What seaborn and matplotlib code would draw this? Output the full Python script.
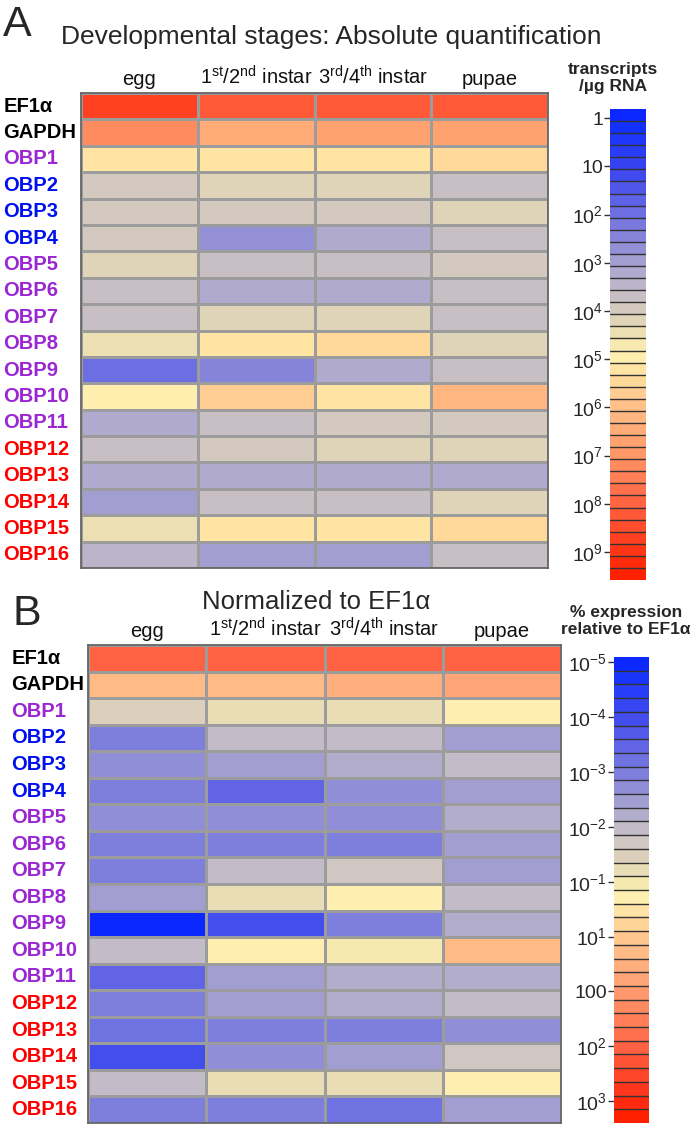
import numpy as np
import pandas as pd
import matplotlib
matplotlib.use('Agg')
import matplotlib.pyplot as plt
from matplotlib.colors import LinearSegmentedColormap
import seaborn as sns

# ---- data -------------------------------------------------------------
stages = ['egg', r'1$^{\rm st}$/2$^{\rm nd}$ instar',
          r'3$^{\rm rd}$/4$^{\rm th}$ instar', 'pupae']
genes = ['EF1α', 'GAPDH'] + ['OBP%d' % i for i in range(1, 17)]
gene_colors = ['black', 'black', '#9b27d3', '#0010ee', '#0010ee', '#0010ee',
               '#9b27d3', '#9b27d3', '#9b27d3', '#9b27d3', '#9b27d3', '#9b27d3',
               '#9b27d3', '#ff0000', '#ff0000', '#ff0000', '#ff0000', '#ff0000']

# A: log10 transcripts / ug RNA
abs_egg = [8.8, 7.2, 5.3, 3.85, 4.0, 3.85, 4.1, 3.7, 3.8, 4.4, 1.9, 4.9, 3.1, 3.6, 3.3, 2.95, 4.5, 3.55]
abs_l12 = [8.2, 6.55, 5.1, 4.3, 4.0, 2.8, 3.6, 3.2, 4.2, 5.3, 2.45, 5.6, 3.7, 3.95, 3.1, 3.6, 5.1, 2.95]
abs_l34 = [8.2, 6.75, 5.1, 4.2, 4.0, 3.3, 3.6, 3.3, 4.3, 5.5, 3.1, 5.3, 4.0, 4.1, 3.3, 3.7, 5.1, 2.9]
abs_pup = [8.1, 6.75, 5.5, 3.6, 4.1, 3.7, 4.0, 3.8, 3.8, 4.2, 3.8, 6.3, 4.0, 4.2, 3.3, 4.25, 5.5, 3.8]

# B: level on the "% expression relative to EF1a" scale (tick index units)
rel_egg = [7.1, 5.3, 3.4, 2.1, 2.2, 2.1, 2.3, 1.95, 2.05, 2.6, 0.0, 3.1, 1.4, 1.95, 1.7, 1.1, 2.9, 1.95]
rel_l12 = [7.1, 5.3, 3.8, 3.0, 2.6, 1.6, 2.35, 1.95, 2.9, 3.8, 1.0, 4.3, 2.4, 2.6, 2.0, 2.35, 3.8, 1.95]
rel_l34 = [7.1, 5.5, 3.8, 3.0, 2.7, 2.15, 2.35, 2.1, 3.15, 4.3, 2.0, 3.95, 2.7, 2.8, 2.1, 2.4, 3.8, 1.7]
rel_pup = [7.1, 5.8, 4.3, 2.5, 2.9, 2.55, 2.75, 2.6, 2.6, 3.0, 2.7, 5.3, 2.8, 3.0, 2.3, 3.15, 4.3, 2.6]

abs_ticks = [0, 1, 2, 3, 4, 5, 6, 7, 8, 9]
abs_ticklabels = ['1', '10', '$10^2$', '$10^3$', '$10^4$', '$10^5$', '$10^6$',
                  '$10^7$', '$10^8$', '$10^9$']
rel_ticks = [0, 1, 2, 3, 4, 5, 6, 7, 8]
rel_ticklabels = ['$10^{-5}$', '$10^{-4}$', '$10^{-3}$', '$10^{-2}$', '$10^{-1}$',
                  '$10^{1}$', '100', '$10^{2}$', '$10^{3}$']

abs_stops = [(-0.19, '#0a28ff'), (0, '#1030ff'), (1, '#3c46f0'), (2, '#7474e0'),
             (2.5, '#8c88d8'), (3, '#a8a4d0'), (3.5, '#c0b8c8'), (4, '#d8ccbc'),
             (4.5, '#efe2b0'), (4.9, '#fff0b0'), (5.5, '#ffd898'), (6, '#ffc088'),
             (6.5, '#ffac78'), (7, '#ff9868'), (7.5, '#ff8058'), (8, '#ff6644'),
             (8.5, '#ff5030'), (9, '#ff3818'), (9.58, '#ff2000')]
rel_stops = [(-0.1, '#0a28ff'), (0, '#1030ff'), (1, '#4850ec'), (2, '#8080dc'),
             (2.5, '#a4a0d0'), (3, '#c4bcc8'), (3.5, '#dcd0bc'), (4, '#f4e8b0'),
             (4.3, '#fff0b0'), (5, '#ffc890'), (6, '#ff9c70'), (7, '#ff6848'),
             (8, '#ff3018'), (8.4, '#ff2000')]

# ---- style ------------------------------------------------------------
sns.set_theme(style='white')
plt.rcParams['font.family'] = ['Liberation Sans', 'DejaVu Sans']
plt.rcParams['mathtext.fontset'] = 'custom'
plt.rcParams['mathtext.rm'] = 'Liberation Sans'
plt.rcParams['mathtext.it'] = 'Liberation Sans:italic'
plt.rcParams['mathtext.bf'] = 'Liberation Sans:bold'

W, H = 697, 1126
fig = plt.figure(figsize=(W / 100, H / 100), dpi=100)


def box(x0, y0, x1, y1):
    return [x0 / W, 1 - y1 / H, (x1 - x0) / W, (y1 - y0) / H]


def make_cmap(stops, n):
    lo, hi = stops[0][0], stops[-1][0]
    pts = [((v - lo) / (hi - lo), c) for v, c in stops]
    return LinearSegmentedColormap.from_list('stages', pts).resampled(n), lo, hi


def draw(ax, cax, df, stops, nbands, ticks, ticklabels, ypad):
    cmap, lo, hi = make_cmap(stops, nbands)
    sns.heatmap(df, ax=ax, cmap=cmap, vmin=lo, vmax=hi, linewidths=0.8,
                linecolor='#9c9c9c', cbar_ax=cax,
                cbar_kws={'ticks': ticks})
    ax.set_xlabel('')
    ax.set_ylabel('')
    ax.xaxis.tick_top()
    ax.set_xticklabels(stages, rotation=0, fontsize=14.5, color='#111111')
    ax.tick_params(axis='x', length=0, pad=3)
    ax.set_yticklabels(genes, rotation=0, ha='left', fontsize=14.5,
                       fontweight='bold')
    ax.tick_params(axis='y', length=0, pad=ypad)
    for lab, c in zip(ax.get_yticklabels(), gene_colors):
        lab.set_color(c)
    for s in ax.spines.values():
        s.set_visible(True)
        s.set_color('#666666')
        s.set_linewidth(1.3)

    cbar = ax.collections[0].colorbar
    cbar.ax.invert_yaxis()
    cbar.set_ticks(ticks)
    cbar.set_ticklabels(ticklabels)
    cbar.ax.yaxis.set_ticks_position('left')
    cbar.ax.yaxis.set_label_position('left')
    cbar.ax.tick_params(axis='y', length=4, width=1, color='#333333',
                        labelsize=14, pad=1)
    cbar.outline.set_edgecolor('#dddddd')
    # dark separators between the colour bands
    for b in cbar._boundaries[1:-1]:
        cbar.ax.axhline(b, color='#333333', lw=1.0)


dfA = pd.DataFrame({s: v for s, v in zip(stages, [abs_egg, abs_l12, abs_l34, abs_pup])},
                   index=genes)
dfB = pd.DataFrame({s: v for s, v in zip(stages, [rel_egg, rel_l12, rel_l34, rel_pup])},
                   index=genes)

axA = fig.add_axes(box(81, 93, 548, 568))
caxA = fig.add_axes(box(610, 109, 646, 580))
draw(axA, caxA, dfA, abs_stops, 39, abs_ticks, abs_ticklabels, 56)

axB = fig.add_axes(box(88, 645, 561, 1123))
caxB = fig.add_axes(box(614, 657, 649, 1123))
draw(axB, caxB, dfB, rel_stops, 34, rel_ticks, rel_ticklabels, 55)

# ---- titles and labels --------------------------------------------------
fig.text(3 / W, 1 - 36 / H, 'A', fontsize=31, va='baseline')
fig.text(331 / W, 1 - 44 / H, 'Developmental stages: Absolute quantification',
         fontsize=19, ha='center', va='baseline')
fig.text(613 / W, 1 - 78 / H, 'transcripts\n/µg RNA', fontsize=12.5,
         fontweight='bold', ha='center', va='center', linespacing=1.1)

fig.text(12 / W, 1 - 625 / H, 'B', fontsize=31, va='baseline')
fig.text(316 / W, 1 - 609 / H, 'Normalized to EF1α', fontsize=18.5,
         ha='center', va='baseline')
fig.text(626 / W, 1 - 621 / H, '% expression\nrelative to EF1α', fontsize=12.5,
         fontweight='bold', ha='center', va='center', linespacing=1.1)

fig.savefig('out.png', dpi=100)
